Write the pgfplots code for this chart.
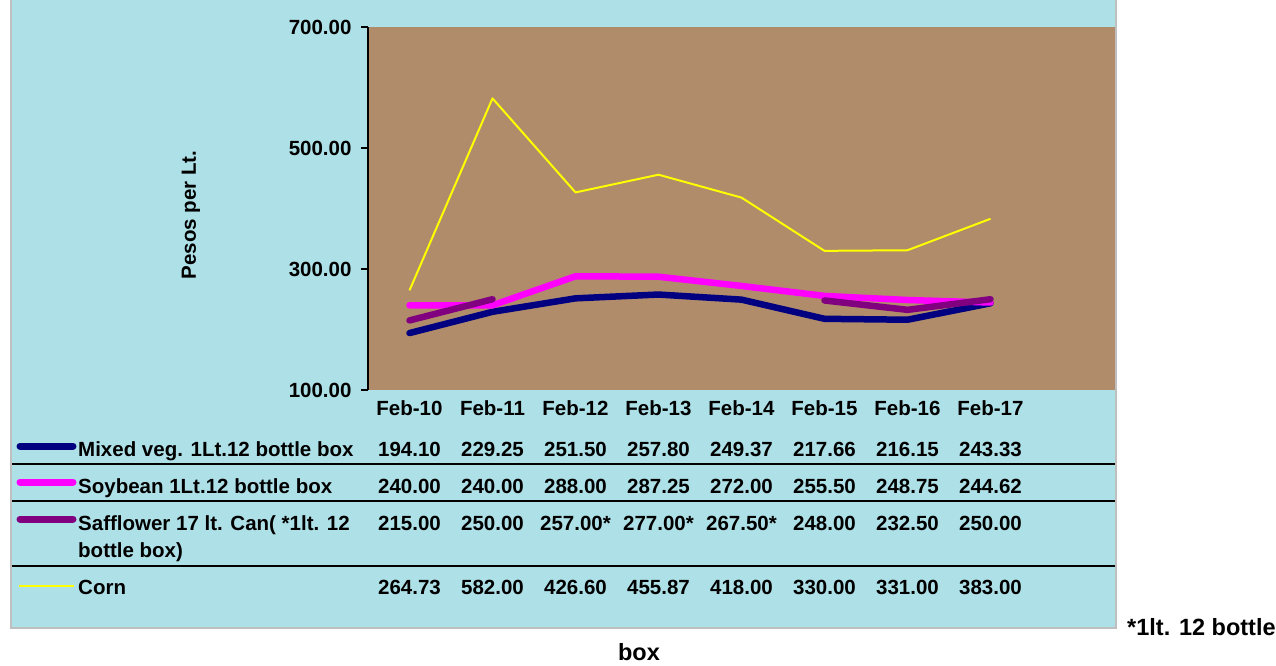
\documentclass[border=0pt]{standalone}
\usepackage{fontspec}
\setmainfont{Liberation Sans}
\usepackage{pgfplots}
\pgfplotsset{compat=1.18}
\definecolor{bgcyan}{RGB}{174,224,231}
\definecolor{plotbrown}{RGB}{176,140,106}
\definecolor{mixnavy}{RGB}{0,0,128}
\definecolor{soymag}{RGB}{255,0,255}
\definecolor{saffpurple}{RGB}{128,0,128}
\definecolor{cornyellow}{RGB}{255,255,0}
\newcommand{\tf}{\fontsize{20.5}{24}\selectfont\bfseries}
\newcommand{\ff}{\fontsize{23.5}{27}\selectfont\bfseries}
\begin{document}
\begin{tikzpicture}[x=1pt,y=1pt]
\useasboundingbox (0,0) rectangle (1276,665);
\fill[white] (0,0) rectangle (1276,665);
\fill[bgcyan] (12,38) rectangle (1115,665);
\draw[black!25, line width=2pt] (11,680) -- (11,37) -- (1116,37) -- (1116,680);
\begin{axis}[
  at={(368pt,275pt)}, anchor=south west,
  scale only axis, width=747pt, height=363pt,
  xmin=-0.5, xmax=8.5, ymin=100, ymax=700,
  axis background/.style={fill=plotbrown},
  axis y line*=left, axis x line*=bottom,
  x axis line style={draw=none},
  y axis line style={line width=2pt, black},
  xtick={0,...,7},
  xticklabels={Feb-10,Feb-11,Feb-12,Feb-13,Feb-14,Feb-15,Feb-16,Feb-17},
  xtick style={draw=none},
  ytick={100,300,500,700},
  ytick style={line width=2pt, black},
  tick align=outside, major tick length=7pt,
  /pgf/number format/assume math mode=true,
  yticklabel style={font=\tf, xshift=-6pt, /pgf/number format/.cd, fixed, fixed zerofill, precision=2},
  xticklabel style={font=\tf},
  unbounded coords=jump,
  clip=false,
]
\addplot[mixnavy, line width=6.5pt, line cap=round, line join=round] coordinates {(0,194.10)(1,229.25)(2,251.50)(3,257.80)(4,249.37)(5,217.66)(6,216.15)(7,243.33)};
\addplot[soymag, line width=6.5pt, line cap=round, line join=round] coordinates {(0,240.00)(1,240.00)(2,288.00)(3,287.25)(4,272.00)(5,255.50)(6,248.75)(7,244.62)};
\addplot[saffpurple, line width=6.5pt, line cap=round, line join=round] coordinates {(0,215.00)(1,250.00)(2,nan)(3,nan)(4,nan)(5,248.00)(6,232.50)(7,250.00)};
\addplot[cornyellow, line width=2pt, line join=round] coordinates {(0,264.73)(1,582.00)(2,426.60)(3,455.87)(4,418.00)(5,330.00)(6,331.00)(7,383.00)};
\end{axis}
% y label
\node[rotate=90, font=\tf] at (191,450) {Pesos per Lt.};
% table separators
\draw[black, line width=2pt] (12,201) -- (1115,201);
\draw[black, line width=2pt] (12,164) -- (1115,164);
\draw[black, line width=2pt] (12,99) -- (1115,99);
% legend keys
\draw[mixnavy, line width=7pt, line cap=round] (20,219) -- (73,219);
\draw[soymag, line width=7pt, line cap=round] (20,183) -- (73,183);
\draw[saffpurple, line width=7pt, line cap=round] (20,146) -- (73,146);
\draw[cornyellow, line width=2pt] (19,79) -- (74,79);
% row labels
\node[anchor=base west, font=\tf, inner sep=0pt] at (78,209) {Mixed veg. 1Lt.12 bottle box};
\node[anchor=base west, font=\tf, inner sep=0pt] at (78,172) {Soybean 1Lt.12 bottle box};
\node[anchor=base west, font=\tf, inner sep=0pt] at (78,135) {Safflower 17 lt. Can( *1lt. 12};
\node[anchor=base west, font=\tf, inner sep=0pt] at (78,108) {bottle box)};
\node[anchor=base west, font=\tf, inner sep=0pt] at (78,71) {Corn};
% values
\foreach \v [count=\i from 0] in {194.10,229.25,251.50,257.80,249.37,217.66,216.15,243.33}
  \node[anchor=base, font=\tf, inner sep=0pt] at ({409.5+83*\i},209) {\v};
\foreach \v [count=\i from 0] in {240.00,240.00,288.00,287.25,272.00,255.50,248.75,244.62}
  \node[anchor=base, font=\tf, inner sep=0pt] at ({409.5+83*\i},172) {\v};
\foreach \v [count=\i from 0] in {215.00,250.00,257.00*,277.00*,267.50*,248.00,232.50,250.00}
  \node[anchor=base, font=\tf, inner sep=0pt] at ({409.5+83*\i},135) {\v};
\foreach \v [count=\i from 0] in {264.73,582.00,426.60,455.87,418.00,330.00,331.00,383.00}
  \node[anchor=base, font=\tf, inner sep=0pt] at ({409.5+83*\i},71) {\v};
% footnote
\node[anchor=base west, font=\ff, inner sep=0pt] at (1127,30) {*1lt. 12 bottle};
\node[anchor=base, font=\ff, inner sep=0pt] at (639,5) {box};
\end{tikzpicture}
\end{document}
